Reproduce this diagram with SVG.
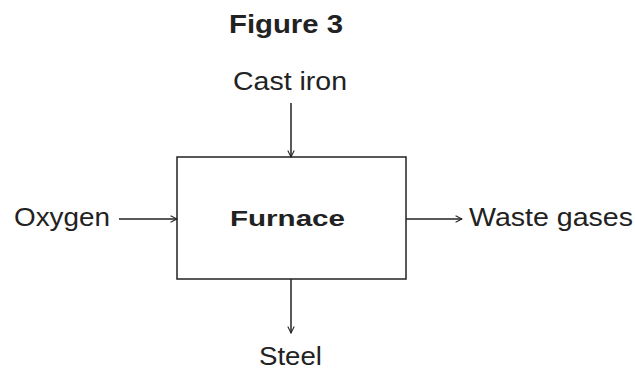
<svg xmlns="http://www.w3.org/2000/svg" width="635" height="372" viewBox="0 0 635 372">
<style>
text{font-family:"Liberation Sans",Arial,sans-serif;fill:#222;}
.lbl{font-size:25px;}
.bold{font-weight:bold;}
.conn{stroke:#222;stroke-width:1.5;fill:none;}
</style>
<defs>
<marker id="arr" viewBox="0 0 10 10" refX="9" refY="5" markerWidth="8" markerHeight="8" markerUnits="userSpaceOnUse" orient="auto">
<path d="M1,1 L9,5 L1,9" stroke="#222" stroke-width="1.3" fill="none"/>
</marker>
</defs>
<rect width="635" height="372" fill="#fff"/>
<text class="lbl bold" x="229" y="33" textLength="114" lengthAdjust="spacingAndGlyphs">Figure 3</text>
<g id="furnace">
<rect x="177" y="157" width="229" height="122" fill="none" stroke="#222" stroke-width="1.5"/>
<text class="bold" x="230" y="226" font-size="22" textLength="115" lengthAdjust="spacingAndGlyphs">Furnace</text>
</g>
<g id="cast-iron"><text class="lbl" x="233" y="90" textLength="114" lengthAdjust="spacingAndGlyphs">Cast iron</text></g>
<g id="oxygen"><text class="lbl" x="14" y="226" textLength="96" lengthAdjust="spacingAndGlyphs">Oxygen</text></g>
<g id="waste-gases"><text class="lbl" x="469" y="226" textLength="164" lengthAdjust="spacingAndGlyphs">Waste gases</text></g>
<g id="steel"><text class="lbl" x="259" y="365" textLength="63" lengthAdjust="spacingAndGlyphs">Steel</text></g>
<g id="connectors">
<line class="conn" x1="291" y1="103" x2="291" y2="157" marker-end="url(#arr)"/>
<line class="conn" x1="119" y1="219" x2="177" y2="219" marker-end="url(#arr)"/>
<line class="conn" x1="406" y1="219" x2="462" y2="219" marker-end="url(#arr)"/>
<line class="conn" x1="291" y1="279" x2="291" y2="333" marker-end="url(#arr)"/>
</g>
</svg>
